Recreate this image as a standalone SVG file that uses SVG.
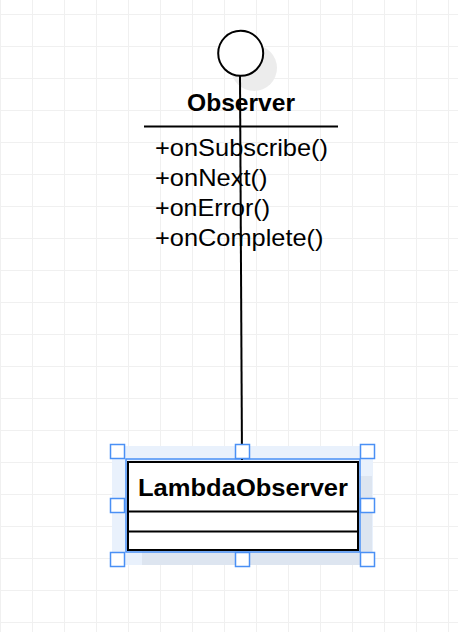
<svg xmlns="http://www.w3.org/2000/svg" width="458" height="632" viewBox="0 0 458 632">
<defs>
<pattern id="grid" x="0" y="14" width="32" height="32" patternUnits="userSpaceOnUse">
<path d="M0.5 0 V32 M0 0.5 H32" fill="none" stroke="#f0f0f0" stroke-width="1"/>
</pattern>
<style>
.t{font-family:"Liberation Sans",Arial,sans-serif;fill:#000}
.b{font-weight:bold;font-size:24.5px}
.m{font-size:24.5px}
.h{fill:#fff;stroke:#4a90f5;stroke-width:1.5}
</style>
</defs>
<rect width="458" height="632" fill="#fff"/>
<rect width="458" height="632" fill="url(#grid)"/>
<g id="observer">
<circle cx="254" cy="68" r="23" fill="#ececec"/>
<circle cx="240.7" cy="53.3" r="22.5" fill="#fff" stroke="#000" stroke-width="2"/>
<text class="t b" x="187" y="111" textLength="108" lengthAdjust="spacingAndGlyphs">Observer</text>
<line x1="144" y1="126.5" x2="338" y2="126.5" stroke="#000" stroke-width="2"/>
<text class="t m" x="155" y="156" textLength="173" lengthAdjust="spacingAndGlyphs">+onSubscribe()</text>
<text class="t m" x="155" y="186" textLength="112.5" lengthAdjust="spacingAndGlyphs">+onNext()</text>
<text class="t m" x="155" y="216" textLength="115" lengthAdjust="spacingAndGlyphs">+onError()</text>
<text class="t m" x="155" y="246" textLength="168.5" lengthAdjust="spacingAndGlyphs">+onComplete()</text>
</g>
<g id="lambda-observer">
<rect x="112" y="446" width="261" height="119" fill="#e9f1fc"/>
<rect x="142" y="476" width="230" height="89" fill="#dde5f0"/>
<rect x="126" y="459" width="234" height="93" fill="none" stroke="#4a90f5" stroke-width="1.5"/>
<rect x="128" y="462" width="230" height="88" fill="#fff" stroke="#000" stroke-width="2"/>
<line x1="128" y1="511.5" x2="358" y2="511.5" stroke="#000" stroke-width="2"/>
<line x1="128" y1="531.5" x2="358" y2="531.5" stroke="#000" stroke-width="2"/>
<text class="t b" x="138" y="496" textLength="210" lengthAdjust="spacingAndGlyphs">LambdaObserver</text>
</g>
<g id="connectors">
<line x1="240" y1="76" x2="242" y2="460" stroke="#000" stroke-width="2"/>
</g>
<g id="handles">
<rect class="h" x="110.5" y="444.5" width="14" height="14"/>
<rect class="h" x="235.5" y="444.5" width="14" height="14"/>
<rect class="h" x="360.5" y="444.5" width="14" height="14"/>
<rect class="h" x="110.5" y="498.5" width="14" height="14"/>
<rect class="h" x="360.5" y="498.5" width="14" height="14"/>
<rect class="h" x="110.5" y="552.5" width="14" height="14"/>
<rect class="h" x="235.5" y="552.5" width="14" height="14"/>
<rect class="h" x="360.5" y="552.5" width="14" height="14"/>
</g>
</svg>
